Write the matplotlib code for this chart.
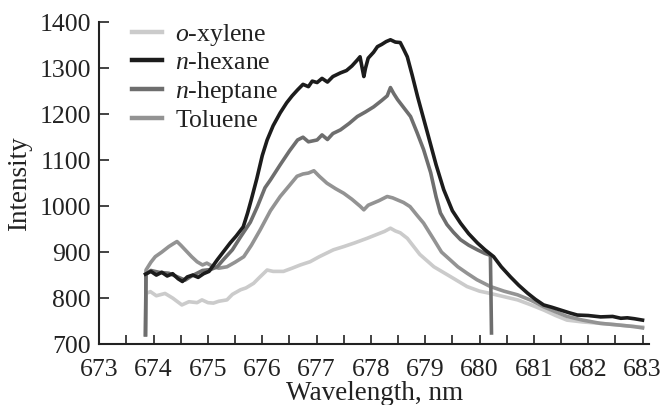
import matplotlib
matplotlib.use("Agg")
import matplotlib.pyplot as plt
from matplotlib.ticker import MultipleLocator

plt.rcParams['font.family'] = ['Liberation Serif', 'DejaVu Serif']
plt.rcParams['mathtext.fontset'] = 'custom'
plt.rcParams['mathtext.it'] = 'Liberation Serif:italic'
plt.rcParams['mathtext.rm'] = 'Liberation Serif'

labels_plain = ['o-xylene', 'n-hexane', 'n-heptane', 'Toluene']
labels_math = ['$\\mathit{o}$-xylene', '$\\mathit{n}$-hexane', '$\\mathit{n}$-heptane', 'Toluene']
colors = ['#cbcbcb', '#1c1c1c', '#6e6e6e', '#939393']

hexane_x = [673.85, 673.95, 674.05, 674.15, 674.25, 674.35, 674.45, 674.53, 674.62, 674.72,
            674.82, 674.92, 675.02, 675.17, 675.28, 675.41, 675.52, 675.65, 675.73, 675.8,
            675.9, 676.0, 676.09, 676.2, 676.33, 676.45, 676.55, 676.65, 676.75, 676.85,
            676.92, 677.01, 677.1, 677.2, 677.3, 677.44, 677.55, 677.65, 677.75, 677.8,
            677.84, 677.87, 677.9, 677.95, 678.05, 678.12, 678.2, 678.28, 678.36, 678.45,
            678.54, 678.6, 678.67, 678.76, 678.86, 679.04, 679.2, 679.34, 679.5, 679.65,
            679.8, 679.96, 680.1, 680.26, 680.4, 680.57, 680.72, 680.88, 681.03, 681.18,
            681.33, 681.49, 681.65, 681.8, 682.0, 682.23, 682.45, 682.6, 682.72, 682.85, 683.0]
hexane_y = [852, 858, 850, 856, 848, 853, 842, 836, 846, 850,
            845, 853, 858, 883, 900, 920, 935, 955, 985, 1015,
            1060, 1110, 1144, 1175, 1203, 1225, 1240, 1253, 1265, 1260,
            1272, 1269, 1278, 1270, 1282, 1290, 1295, 1305, 1318, 1325,
            1300, 1282, 1300, 1322, 1335, 1347, 1352, 1358, 1362, 1357,
            1356, 1342, 1325, 1285, 1238, 1160, 1090, 1036, 990, 963,
            940, 920, 905, 890, 868, 846, 828, 811, 797, 785,
            780, 774, 768, 763, 762, 759, 760, 756, 757, 755, 752]

heptane_x = [673.85, 673.86, 673.95, 674.1, 674.28, 674.4, 674.58, 674.7, 674.9, 675.05,
             675.17, 675.28, 675.45, 675.6, 675.78, 675.91, 676.05, 676.15, 676.33, 676.5,
             676.65, 676.75, 676.85, 677.01, 677.1, 677.2, 677.3, 677.44, 677.6, 677.75,
             677.9, 678.05, 678.2, 678.3, 678.36, 678.42, 678.49, 678.6, 678.73, 678.85,
             678.97, 679.1, 679.2, 679.28, 679.4, 679.52, 679.65, 679.8, 679.96, 680.1,
             680.2, 680.22]
heptane_y = [720, 852, 860, 856, 854, 848, 839, 848, 860, 862,
             868, 883, 905, 933, 965, 999, 1040, 1057, 1090, 1120,
             1144, 1150, 1140, 1144, 1155, 1145, 1158, 1166, 1180, 1195,
             1205, 1216, 1230, 1240, 1258, 1245, 1232, 1215, 1195, 1160,
             1123, 1073, 1020, 985, 960, 943, 927, 915, 905, 897,
             893, 724]

toluene_x = [673.85, 673.86, 673.95, 674.03, 674.15, 674.28, 674.36, 674.43, 674.5, 674.58,
             674.7, 674.8, 674.9, 674.98, 675.1, 675.2, 675.35, 675.5, 675.66, 675.8,
             675.96, 676.15, 676.33, 676.5, 676.64, 676.75, 676.85, 676.95, 677.05, 677.19,
             677.35, 677.5, 677.65, 677.8, 677.87, 677.95, 678.05, 678.15, 678.3, 678.4,
             678.48, 678.6, 678.72, 678.85, 678.97, 679.16, 679.3, 679.46, 679.6, 679.77,
             679.95, 680.2, 680.45, 680.7, 680.95, 681.18, 681.4, 681.61, 681.9, 682.22,
             682.5, 682.84, 683.0]
toluene_y = [720, 861, 878, 890, 900, 912, 918, 923, 915, 905,
             890, 879, 872, 876, 868, 865, 868, 878, 890, 915,
             948, 990, 1021, 1045, 1065, 1070, 1072, 1077, 1065, 1050,
             1038, 1028, 1015, 1000, 992, 1002, 1007, 1012, 1021, 1018,
             1014, 1008, 999, 980, 963, 927, 900, 883, 868, 854,
             840, 825, 815, 807, 795, 781, 770, 760, 752, 745,
             742, 738, 735]

xylene_x = [673.85, 673.86, 673.94, 674.05, 674.21, 674.35, 674.52, 674.65, 674.8, 674.89,
            675.0, 675.1, 675.2, 675.35, 675.45, 675.6, 675.7, 675.84, 675.95, 676.09,
            676.2, 676.39, 676.55, 676.7, 676.88, 677.05, 677.31, 677.5, 677.7, 677.93,
            678.1, 678.25, 678.36, 678.45, 678.54, 678.67, 678.9, 679.16, 679.46, 679.77,
            680.0, 680.2, 680.45, 680.7, 680.95, 681.18, 681.4, 681.61, 681.9, 682.22,
            682.5, 682.84, 683.0]
xylene_y = [720, 810, 814, 805, 810, 800, 785, 792, 790, 796,
            790, 789, 793, 796, 808, 818, 822, 832, 845, 861,
            858, 858, 865, 872, 879, 890, 905, 912, 920, 930,
            938, 945, 952, 946, 942, 930, 895, 868, 847, 825,
            815, 810, 803, 796, 785, 774, 762, 752, 748, 745,
            742, 738, 737]

series = [(xylene_x, xylene_y), (hexane_x, hexane_y), (heptane_x, heptane_y), (toluene_x, toluene_y)]
zorders = [2, 5, 4, 3]

fig = plt.figure(figsize=(6.62, 4.05), dpi=100)
ax = fig.add_axes([0.150, 0.1506, 0.8304, 0.7943])

for (xs, ys), lab, col, z in zip(series, labels_plain, colors, zorders):
    ax.plot(xs, ys, color=col, lw=2.6, label=lab, zorder=z, solid_joinstyle='round')

ax.set_xlim(673, 683.12)
ax.set_ylim(700, 1400)
ax.xaxis.set_major_locator(MultipleLocator(1))
ax.xaxis.set_minor_locator(MultipleLocator(0.5))
ax.yaxis.set_major_locator(MultipleLocator(100))

for s in ['top', 'right']:
    ax.spines[s].set_visible(False)
for s in ['left', 'bottom']:
    ax.spines[s].set_linewidth(1.5)
    ax.spines[s].set_color('#222222')

ax.tick_params(axis='both', which='both', direction='in', width=1.2, color='#222222',
               labelsize=18.5, labelcolor='#222222')
ax.tick_params(axis='x', which='both', length=6.5, pad=11)
ax.tick_params(axis='y', which='major', length=7, pad=6)

ax.set_xlabel('Wavelength, nm', fontsize=19.5, color='#222222', labelpad=-0.5)
ax.set_ylabel('Intensity', fontsize=19.5, color='#222222', labelpad=5)

leg = ax.legend(loc='upper left', bbox_to_anchor=(0.06, 0.999), frameon=False,
                fontsize=18.5, handlelength=1.17, handletextpad=0.5,
                labelspacing=0.22, borderpad=0, borderaxespad=0)
for line in leg.get_lines():
    line.set_linewidth(3.2)

# replace plain legend labels by mixed italic labels at the same baseline
fig.canvas.draw()
inv = fig.transFigure.inverted()
for t, lab in zip(leg.get_texts(), labels_math):
    px, py = t.get_transform().transform(t.get_position())
    fx, fy = inv.transform((px, py))
    fig.text(fx, fy, lab, fontsize=18.5, color='#222222', ha='left', va='baseline')
    t.set_alpha(0)

fig.savefig('out.png', dpi=100)
